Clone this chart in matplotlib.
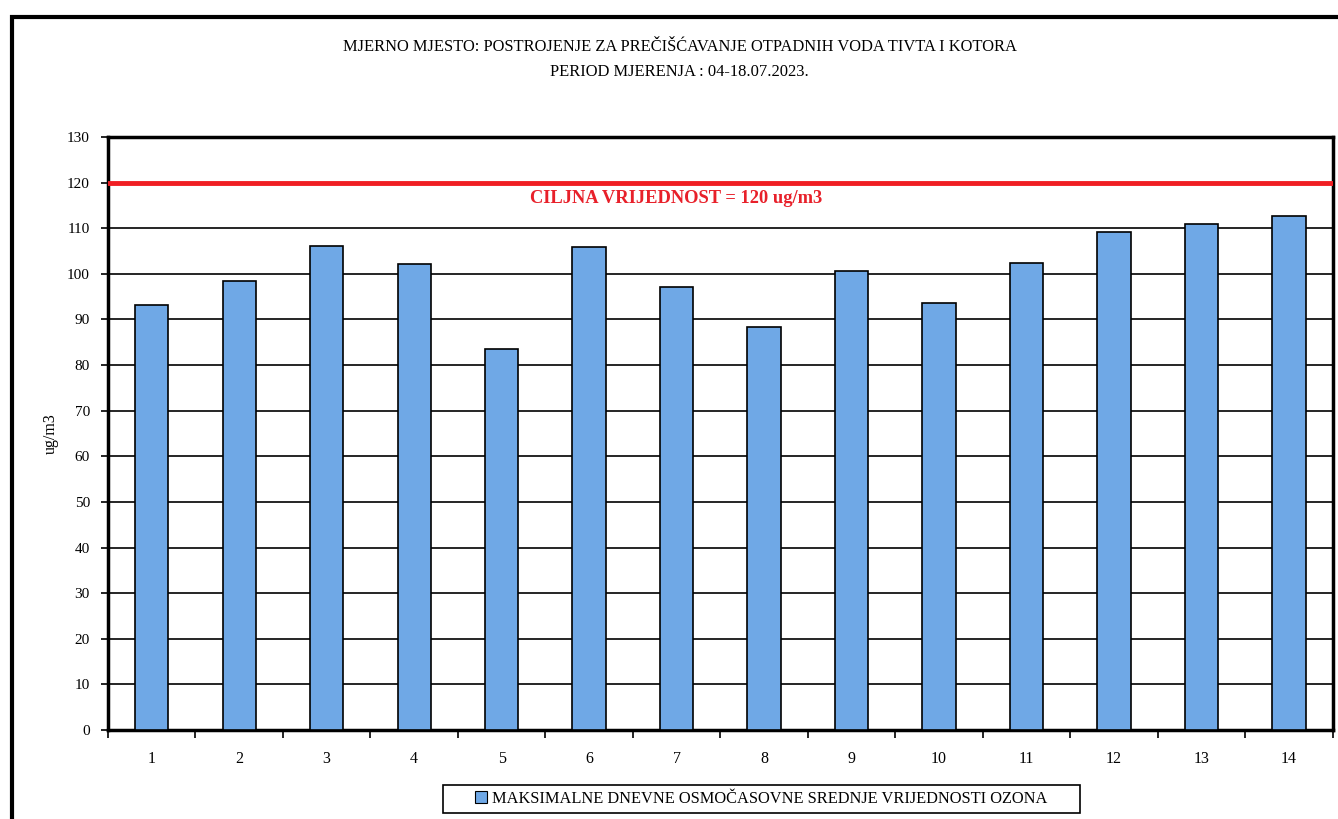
import matplotlib
matplotlib.use("Agg")
import matplotlib.pyplot as plt
import numpy as np
from matplotlib.patches import Rectangle, Patch

# data
days = [str(i) for i in range(1, 15)]
ozone_max8h = [93.1, 98.4, 106.0, 102.2, 83.5, 105.8, 97.1,
               88.4, 100.6, 93.6, 102.4, 109.1, 111.0, 112.6]
target_value = 120
y_ticks = list(range(0, 131, 10))

title_lines = ["MJERNO MJESTO: POSTROJENJE ZA PREČIŠĆAVANJE OTPADNIH VODA TIVTA I KOTORA",
               "PERIOD MJERENJA : 04-18.07.2023."]
legend_label = "MAKSIMALNE DNEVNE OSMOČASOVNE SREDNJE VRIJEDNOSTI OZONA"
target_label = "CILJNA VRIJEDNOST = 120 ug/m3"

plt.rcParams['font.family'] = ['Liberation Serif', 'DejaVu Serif']

fig = plt.figure(figsize=(13.38, 8.19), dpi=100)
ax = fig.add_axes([0.0807, 0.1087, 0.9153, 0.724])

# outer frame of the chart object
fig.patches.append(Rectangle((0.009, -0.05), 1.1, 1.029, transform=fig.transFigure,
                             fill=False, edgecolor='black', linewidth=3, clip_on=False))

x = np.arange(len(days))
ax.bar(x, ozone_max8h, width=0.38, color='#6FA8E6', edgecolor='black',
       linewidth=1.2, zorder=3, label=legend_label)

# horizontal grid
for yv in y_ticks[1:]:
    ax.axhline(yv, color='black', linewidth=1.2, zorder=1)

ax.axhline(target_value, color='#F01E23', linewidth=3.5, zorder=4)
ax.text(5.99, target_value - 3.5, target_label, color='#E8202A',
        fontsize=13.3, fontweight='bold', ha='center', va='center')

ax.set_xlim(-0.5, len(days) - 0.5)
ax.set_ylim(0, 130)
ax.set_yticks(y_ticks)
ax.set_yticklabels([str(v) for v in y_ticks], fontsize=11)
ax.set_xticks(x)
ax.set_xticklabels(days, fontsize=11.5)
ax.tick_params(axis='x', length=0, pad=15)
ax.set_xticks(np.arange(-0.5, len(days), 1), minor=True)
ax.tick_params(axis='x', which='minor', length=6, width=1.2, direction='out')
ax.tick_params(axis='y', length=5, width=1.2, direction='out', pad=8)

for side in ['left', 'right', 'top', 'bottom']:
    ax.spines[side].set_linewidth(2.5)

ax.set_ylabel("ug/m3", fontsize=11.5, labelpad=6)

fig.text(0.508, 0.943, title_lines[0], ha='center', va='center', fontsize=11.9)
fig.text(0.508, 0.912, title_lines[1], ha='center', va='center', fontsize=11.9)

# legend: box drawn separately, it is wider than its content
fig.patches.append(Rectangle((0.331, 0.0073), 0.476, 0.0342, transform=fig.transFigure,
                             fill=False, edgecolor='black', linewidth=1.2))
fig.legend(handles=[Patch(facecolor='#6FA8E6', edgecolor='black', linewidth=0.8,
                          label=legend_label)],
           loc='center', bbox_to_anchor=(0.569, 0.0245), fontsize=11.8,
           frameon=False, handlelength=0.7, handleheight=0.7, handletextpad=0.3)

fig.savefig("out.png", dpi=100)
